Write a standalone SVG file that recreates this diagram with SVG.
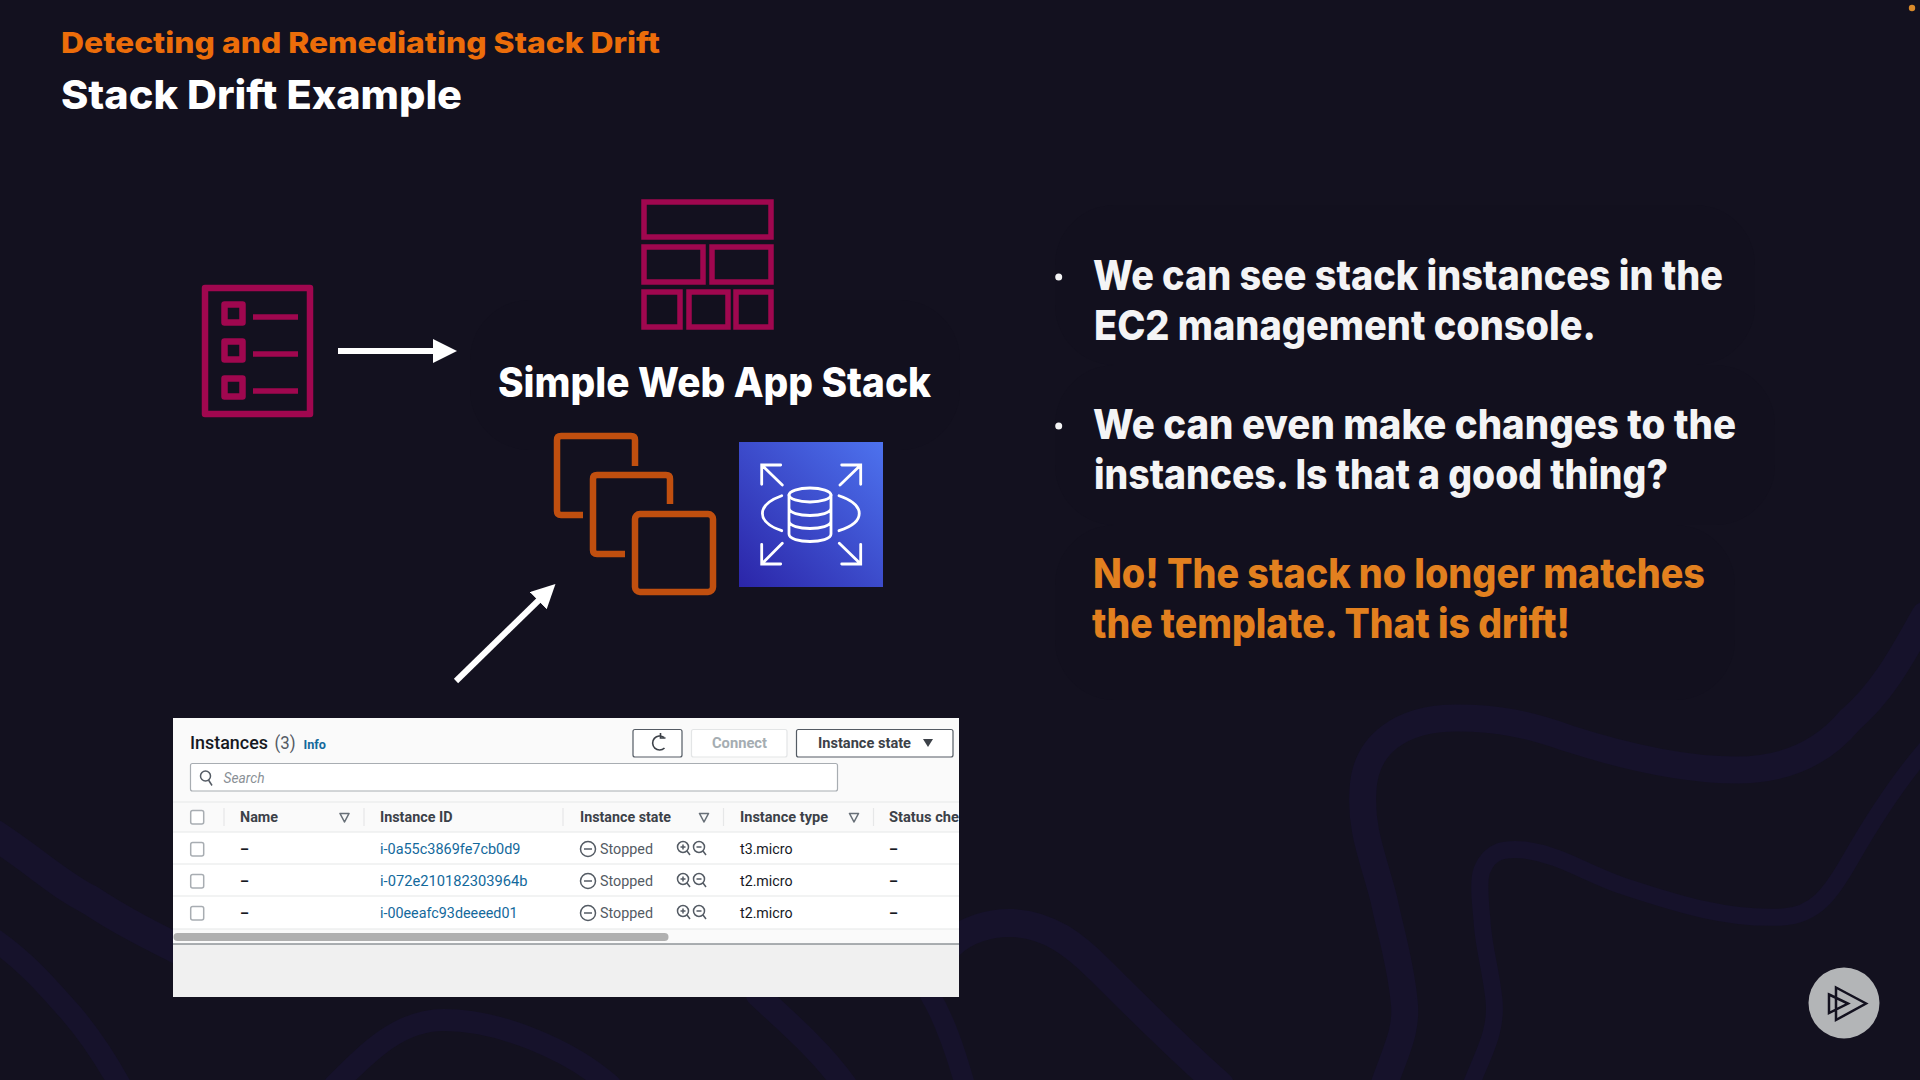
<svg xmlns="http://www.w3.org/2000/svg" width="1920" height="1080" viewBox="0 0 1920 1080">
<style>
text{font-family:"Inter","Liberation Sans",sans-serif}
.h{font-weight:800;fill:#fff}
.b{font-size:41px;font-weight:800;fill:#f4f4f5}
.o{font-size:41px;font-weight:800;fill:#e2801f}
.w{fill:none;stroke:#16122b;stroke-linecap:round}
.mag{fill:none;stroke:#a0074f;stroke-width:5.5}
.mag2{fill:none;stroke:#a0074f;stroke-width:6.500;stroke-linejoin:round}
.ec2{fill:none;stroke:#c04f0f;stroke-width:6.5;stroke-linejoin:round}
.rd{fill:none;stroke:#fff;stroke-width:2.8;stroke-linecap:round;stroke-linejoin:miter}
.t{font-family:"Roboto","Liberation Sans",sans-serif;font-size:14px;fill:#16191f}
.th{font-family:"Roboto","Liberation Sans",sans-serif;font-size:14px;font-weight:700;fill:#3c4148}
.lk{font-family:"Roboto","Liberation Sans",sans-serif;font-size:14px;fill:#13699c}
.st{font-family:"Roboto","Liberation Sans",sans-serif;font-size:14px;fill:#545b64}
.cb{fill:#fff;stroke:#a8adb2;stroke-width:1.5}
.ln{stroke:#e6e7e8;stroke-width:1.2}
.fn{fill:none;stroke:#687078;stroke-width:1.6;stroke-linejoin:round}
.ic{fill:none;stroke:#545b64;stroke-width:1.5}
.btn{fill:#fff;stroke:#545b64;stroke-width:1.2}
</style>
<defs>
<linearGradient id="rds" x1="0" y1="1" x2="1" y2="0"><stop offset="0" stop-color="#2b25a8"/><stop offset="1" stop-color="#4d72ee"/></linearGradient>
<marker id="ah" markerUnits="userSpaceOnUse" markerWidth="24" markerHeight="24" refX="1" refY="12" orient="auto"><path d="M0,0L24,12L0,24Z" fill="#fff"/></marker>
</defs>
<rect width="1920" height="1080" fill="#13111f"/>
<g id="background">
<path class="w" stroke-width="27" d="M1384,1085C1396,1050 1408,1030 1404,1000C1400,960 1390,930 1384,900C1374,860 1360,830 1363,790C1365,745 1400,718 1457,718C1500,718 1530,725 1567,738C1620,755 1680,770 1737,770C1790,770 1825,750 1850,720C1885,690 1905,650 1925,615"/>
<path class="w" stroke-width="17" d="M1471,1085C1485,1050 1497,1030 1494,1000C1491,970 1483,945 1482,920C1480,900 1478,880 1482,870C1490,850 1505,848 1525,850C1560,855 1580,870 1620,885C1680,905 1730,920 1783,917C1815,915 1830,895 1850,860C1870,825 1895,785 1925,750"/>
<path class="w" stroke-width="30" d="M-5,835C40,865 60,885 90,900C120,920 150,935 180,950"/>
<path class="w" stroke-width="22" d="M-5,940C30,965 50,990 70,1012C90,1035 105,1058 120,1085"/>
<path class="w" stroke-width="22" d="M335,1085C370,1050 400,1020 444,1020C500,1020 570,1050 610,1085"/>
<path class="w" stroke-width="24" d="M758,995C785,1020 820,1050 845,1085"/>
<path class="w" stroke-width="28" d="M950,945C965,930 990,922 1013,923C1050,925 1075,945 1100,970C1140,1010 1180,1050 1220,1085"/>
<path class="w" stroke-width="20" d="M930,995C945,1020 955,1050 965,1085"/>
<g fill="#12101e">
<rect x="1055" y="205" width="700" height="160" rx="60"/>
<rect x="1055" y="365" width="720" height="160" rx="60"/>
<rect x="1055" y="525" width="680" height="175" rx="60"/>
<rect x="470" y="300" width="490" height="150" rx="60"/>
</g>
</g>
<g id="titles">
<text class="h" x="61" y="53" font-size="29" style="fill:#ec6d0a" textLength="599" lengthAdjust="spacingAndGlyphs">Detecting and Remediating Stack Drift</text>
<text class="h" x="61" y="109" font-size="40" textLength="401" lengthAdjust="spacingAndGlyphs">Stack Drift Example</text>
</g>
<g id="connectors">
<line x1="338" y1="351" x2="434" y2="351" stroke="#fff" stroke-width="6" marker-end="url(#ah)"/>
<line x1="456" y1="681" x2="539" y2="600" stroke="#fff" stroke-width="6" marker-end="url(#ah)"/>
</g>
<g id="template-icon">
<rect class="mag2" x="205" y="288" width="105" height="126"/>
<rect class="mag2" x="224.500" y="304.500" width="18" height="18"/>
<rect class="mag2" x="224.500" y="341.500" width="18" height="18"/>
<rect class="mag2" x="224.500" y="378.500" width="18" height="18"/>
<path class="mag" d="M253,317H298M253,354H298M253,391H298"/>
</g>
<g id="stack-icon">
<rect class="mag" x="644" y="202" width="127" height="35"/>
<rect class="mag" x="644" y="247" width="59" height="35"/>
<rect class="mag" x="712" y="247" width="59" height="35"/>
<rect class="mag" x="644" y="292" width="36" height="35"/>
<rect class="mag" x="689" y="292" width="39" height="35"/>
<rect class="mag" x="736" y="292" width="35" height="35"/>
</g>
<g id="stack-label">
<text class="h" x="498" y="397" font-size="41" textLength="433" lengthAdjust="spacingAndGlyphs">Simple Web App Stack</text>
</g>
<g id="ec2-icon">
<path class="ec2" d="M583,515H561Q557,515 557,511V440Q557,436 561,436H631Q635,436 635,440V466"/>
<path class="ec2" d="M625,554H597Q593,554 593,550V479Q593,475 597,475H666Q670,475 670,479V504"/>
<rect class="ec2" x="635" y="514" width="78" height="78" rx="5"/>
</g>
<g id="rds-icon">
<rect x="739" y="442" width="144" height="145" fill="url(#rds)"/>
<path class="rd" d="M780.7,465H761.7V484.3M761.7,465L782.3,485M841.7,465H860.7V484.3M860.7,465L840,485M780.7,564H761.7V544.3M761.7,564L782.3,543.3M841.7,564H860.7V544.3M860.7,564L839.3,543.3"/>
<path class="rd" d="M781.7,495.7C756,505 756,522 781.7,530.7M839,495.7C866,505 866,522 839,530.7"/>
<ellipse class="rd" cx="810" cy="495" rx="21" ry="7"/>
<path class="rd" d="M789,495V534C789,544 831,544 831,534V495M789,508C789,518 831,518 831,508M789,521C789,531 831,531 831,521"/>
</g>
<g id="console-screenshot">
<rect x="173" y="718" width="786" height="279" fill="#f0f0f0"/>
<rect x="173" y="718" width="786" height="226" fill="#fafafa"/>
<rect x="173" y="832" width="786" height="97" fill="#fff"/>
<path class="ln" d="M173,802H959M173,832H959M173,864H959M173,896H959M173,929H959M224,808V826M364,808V826M563,808V826M723.500,808V826M873.500,808V826"/>
<rect x="173.500" y="933" width="495" height="8" rx="4" fill="#b0b0b0"/>
<line x1="173" y1="944" x2="959" y2="944" stroke="#8f9498" stroke-width="1.5"/>
<text class="h" style="fill:#16191f;font-family:Roboto,'Liberation Sans',sans-serif;font-weight:500" x="190" y="749" font-size="19" textLength="78" lengthAdjust="spacingAndGlyphs">Instances</text>
<text class="st" x="274.500" y="749" style="font-size:18px" textLength="21" lengthAdjust="spacingAndGlyphs">(3)</text>
<text class="lk" x="303.500" y="749" style="font-size:12px;font-weight:700" textLength="22.500" lengthAdjust="spacingAndGlyphs">Info</text>
<rect class="btn" x="633" y="729.500" width="49" height="27.500" rx="2"/>
<path d="M664,737.500A7,7 0 1 0 664.500,748" fill="none" stroke="#3c4148" stroke-width="1.6"/>
<path d="M660.500,733V738H665.500" fill="none" stroke="#3c4148" stroke-width="1.6"/>
<rect x="691.500" y="729.500" width="95.500" height="27.500" rx="2" fill="#fff" stroke="#e3e5e6" stroke-width="1.2"/>
<text class="th" style="fill:#a5adb2" x="712" y="748" textLength="55" lengthAdjust="spacingAndGlyphs">Connect</text>
<rect class="btn" x="796.500" y="729.500" width="156.500" height="27.500" rx="2"/>
<text class="th" x="818" y="748" textLength="93" lengthAdjust="spacingAndGlyphs">Instance state</text>
<path d="M923,739H933L928,747Z" fill="#3c4148"/>
<rect x="190.500" y="763.500" width="647" height="27.500" rx="2" fill="#fff" stroke="#a8adb2" stroke-width="1.2"/>
<circle cx="205.500" cy="776" r="5" class="ic"/>
<path class="ic" d="M208.500,780L212,785.500"/>
<text class="st" style="font-style:italic;fill:#8a9096" x="223.500" y="782.500" textLength="41" lengthAdjust="spacingAndGlyphs">Search</text>
<rect class="cb" x="190.700" y="810.500" width="13" height="13.500" rx="2"/>
<rect class="cb" x="190.700" y="842.500" width="13" height="13.500" rx="2"/>
<rect class="cb" x="190.700" y="874.500" width="13" height="13.500" rx="2"/>
<rect class="cb" x="190.700" y="906.500" width="13" height="13.500" rx="2"/>
<text class="th" x="240" y="822" textLength="38" lengthAdjust="spacingAndGlyphs">Name</text>
<path class="fn" d="M340,813.500H349L344.500,822Z"/>
<text class="th" x="380" y="822" textLength="72.500" lengthAdjust="spacingAndGlyphs">Instance ID</text>
<text class="th" x="580" y="822" textLength="91" lengthAdjust="spacingAndGlyphs">Instance state</text>
<path class="fn" d="M699.500,813.500H708.500L704,822Z"/>
<text class="th" x="740" y="822" textLength="88" lengthAdjust="spacingAndGlyphs">Instance type</text>
<path class="fn" d="M849.500,813.500H858.500L854,822Z"/>
<text class="th" x="889" y="822" textLength="70" lengthAdjust="spacingAndGlyphs">Status che</text>
<g id="row-1">
<text class="t" x="240" y="854" style="font-weight:700">–</text>
<text class="lk" x="380" y="854" textLength="140.500" lengthAdjust="spacingAndGlyphs">i-0a55c3869fe7cb0d9</text>
<circle class="ic" cx="588" cy="849" r="7.500"/><path class="ic" d="M584,849H592"/>
<text class="st" x="600" y="854" textLength="53" lengthAdjust="spacingAndGlyphs">Stopped</text>
<circle class="ic" cx="683" cy="847" r="5.500"/><path class="ic" d="M680.500,847H685.500M683,844.500V849.500M687,851L690,855"/>
<circle class="ic" cx="699" cy="847" r="5.500"/><path class="ic" d="M696.500,847H701.500M703,851L706,855"/>
<text class="t" x="740" y="854" textLength="52.500" lengthAdjust="spacingAndGlyphs">t3.micro</text>
<text class="t" x="889" y="854" style="font-weight:700">–</text>
</g>
<g id="row-2">
<text class="t" x="240" y="886" style="font-weight:700">–</text>
<text class="lk" x="380" y="886" textLength="147.500" lengthAdjust="spacingAndGlyphs">i-072e210182303964b</text>
<circle class="ic" cx="588" cy="881" r="7.500"/><path class="ic" d="M584,881H592"/>
<text class="st" x="600" y="886" textLength="53" lengthAdjust="spacingAndGlyphs">Stopped</text>
<circle class="ic" cx="683" cy="879" r="5.500"/><path class="ic" d="M680.500,879H685.500M683,876.500V881.500M687,883L690,887"/>
<circle class="ic" cx="699" cy="879" r="5.500"/><path class="ic" d="M696.500,879H701.500M703,883L706,887"/>
<text class="t" x="740" y="886" textLength="52.500" lengthAdjust="spacingAndGlyphs">t2.micro</text>
<text class="t" x="889" y="886" style="font-weight:700">–</text>
</g>
<g id="row-3">
<text class="t" x="240" y="918" style="font-weight:700">–</text>
<text class="lk" x="380" y="918" textLength="137.500" lengthAdjust="spacingAndGlyphs">i-00eeafc93deeeed01</text>
<circle class="ic" cx="588" cy="913" r="7.500"/><path class="ic" d="M584,913H592"/>
<text class="st" x="600" y="918" textLength="53" lengthAdjust="spacingAndGlyphs">Stopped</text>
<circle class="ic" cx="683" cy="911" r="5.500"/><path class="ic" d="M680.500,911H685.500M683,908.500V913.500M687,915L690,919"/>
<circle class="ic" cx="699" cy="911" r="5.500"/><path class="ic" d="M696.500,911H701.500M703,915L706,919"/>
<text class="t" x="740" y="918" textLength="52.500" lengthAdjust="spacingAndGlyphs">t2.micro</text>
<text class="t" x="889" y="918" style="font-weight:700">–</text>
</g>
</g>
<g id="bullets">
<circle cx="1058.700" cy="277" r="3.500" fill="#f4f4f5"/>
<circle cx="1058.700" cy="426" r="3.500" fill="#f4f4f5"/>
<text class="b" x="1093" y="290" textLength="630" lengthAdjust="spacingAndGlyphs">We can see stack instances in the</text>
<text class="b" x="1094" y="340" textLength="502" lengthAdjust="spacingAndGlyphs">EC2 management console.</text>
<text class="b" x="1093" y="439" textLength="643" lengthAdjust="spacingAndGlyphs">We can even make changes to the</text>
<text class="b" x="1094" y="489" textLength="574" lengthAdjust="spacingAndGlyphs">instances. Is that a good thing?</text>
<text class="o" x="1093" y="588" textLength="612" lengthAdjust="spacingAndGlyphs">No! The stack no longer matches</text>
<text class="o" x="1092" y="638" textLength="478" lengthAdjust="spacingAndGlyphs">the template. That is drift!</text>
</g>
<g id="logo">
<circle cx="1844" cy="1003" r="35.500" fill="#b3b5b7"/>
<path d="M1836,987.500L1866,1003.500L1836,1020ZM1829,994.500L1848,1003.500L1829,1013Z" fill="none" stroke="#13111f" stroke-width="2.500"/>
</g>
<circle id="progress-dot" cx="1912" cy="8" r="3.200" fill="#d98a2b"/>
</svg>
